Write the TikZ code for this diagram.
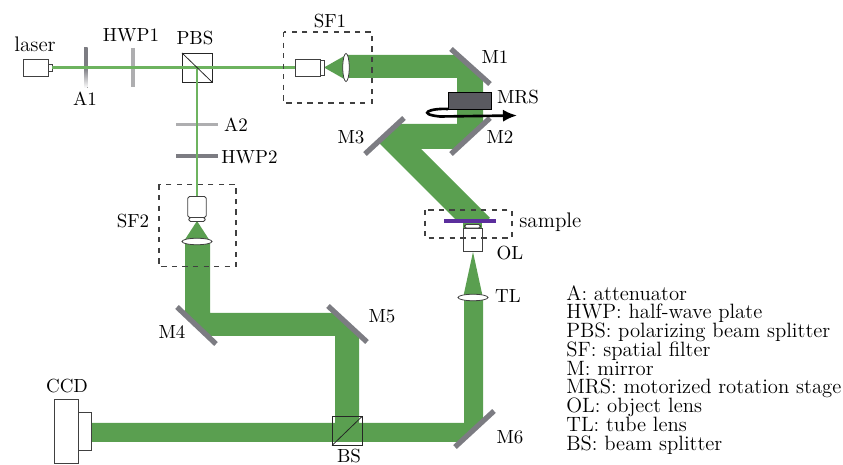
\documentclass[tikz,border=0pt]{standalone}
\usepackage{tikz}
\usetikzlibrary{arrows.meta,calc,positioning,shapes.geometric}
\definecolor{osGreen}{HTML}{5A9F50}
\definecolor{osThin}{HTML}{6DB35F}
\definecolor{osMirror}{HTML}{7C7C82}
\definecolor{osDark}{HTML}{5A5A60}
\definecolor{osPlate}{HTML}{AEAEB0}
\definecolor{osPurple}{HTML}{5B2E9C}
\AtBeginDocument{\lineskiplimit=-20pt\relax}
\tikzset{
  part/.style={draw=black!75,fill=white,line width=.45pt,inner sep=0pt,outer sep=0pt},
  cube/.style={draw=black!85,line width=.45pt,inner sep=0pt,outer sep=0pt,minimum width=.6cm,minimum height=.58cm},
  mirror/.style={osMirror,line width=3pt},
  plate/.style={line width=2pt},
  beam/.style={fill=osGreen},
  thinbeam/.style={osThin,line width=1.3pt},
  lens/.style={ellipse,draw=black!75,fill=white,line width=.45pt,inner sep=0pt,outer sep=0pt},
  filterbox/.style={draw=black!75,dashed,line width=.6pt},
  tag/.style={inner sep=0pt,font=\fontsize{10.8}{12}\selectfont},
  lowtag/.style={inner sep=0pt,font=\fontsize{12}{12}\selectfont}
}
\begin{document}
\begin{tikzpicture}[x=.02cm,y=-.02cm,>=Latex]
\useasboundingbox (0,0) rectangle (843,465);
\fill[beam] (346,55)--(458,55)--(483,78)--(483,124.5)--(456,149)--(421,149)--(490,218)--(484,222)--(458,222)--(378,142)--(397,124)--(457,124)--(457,78)--(346,78)--cycle;
\fill[beam] (324,67.5)--(346,55)--(346,80)--cycle;
\fill[beam] (463,222)--(482,222)--(482,230)--(463,230)--cycle;
\fill[beam] (197,221)--(210,241)--(184,241)--cycle;
\fill[beam] (185,241)--(210,241)--(210,313)--(336,313)--(359,335)--(359,425)--(335,425)--(335,336)--(208,336)--(185,314)--cycle;
\fill[beam] (91,423)--(464,423)--(464,298)--(483,298)--(483,421)--(460,442)--(91,442)--cycle;
\fill[beam] (473,252)--(483,298)--(463,298)--cycle;
\draw[mirror] (451,49)--(490,84);
\draw[mirror] (451,154)--(490,118);
\draw[mirror] (365,154)--(404,118);
\draw[mirror] (177,307)--(216,344);
\draw[mirror] (328,306)--(367,342);
\draw[mirror] (455,447)--(494,411);
\node[part,minimum width=.5cm,minimum height=.34cm] (laser) at (35.5,67.5) {};
\node[part,minimum width=.08cm,minimum height=.14cm,anchor=west] (nozzle) at (laser.east) {};
\node[cube] (pbs) at (197,67.5) {};
\node[part,minimum width=.5cm,minimum height=.34cm] (objA) at (307.5,67.5) {};
\node[part,minimum width=.08cm,minimum height=.3cm,anchor=west] (capA) at (objA.east) {};
\node[lens,minimum width=.13cm,minimum height=.56cm] (lensA) at (346,67.5) {};
\node[part,rounded corners=1pt,minimum width=.37cm,minimum height=.42cm] (objB) at (197,207) {};
\node[part,rounded corners=1pt,minimum width=.33cm,minimum height=.08cm,anchor=north] (capB) at (objB.south) {};
\node[lens,minimum width=.6cm,minimum height=.13cm] (lensB) at (197,241.5) {};
\node[part,minimum width=.38cm,minimum height=.46cm] (ol) at (472.5,239.5) {};
\node[part,rounded corners=1pt,minimum width=.32cm,minimum height=.07cm,anchor=south] (olcap) at (ol.north) {};
\node[lens,minimum width=.6cm,minimum height=.13cm] (tl) at (473,297.5) {};
\node[part,minimum width=.49cm,minimum height=1.28cm] (ccd) at (66.5,431) {};
\node[part,minimum width=.25cm,minimum height=.76cm,anchor=west] (ccdfront) at (ccd.east) {};
\node[cube] (bs) at (347,431) {};
\node[fill=osDark,draw=black,line width=.5pt,inner sep=0pt,outer sep=0pt,minimum width=.86cm,minimum height=.34cm] (mrs) at (469.5,100.5) {};
\draw[line width=1.5pt,black,-{Latex[length=8pt,width=7pt]}] (mrs.south west)..controls (430,108) and (416,114) .. (440,116.5)--(517,115.5);
\fill[top color=osMirror,bottom color=white,middle color=osMirror] (84,48) rectangle (87.5,88);
\draw[plate,osPlate] (133,48)--(133,87);
\draw[plate,osPlate] (176,124.5)--(218,124.5);
\draw[plate,osMirror] (176,156)--(218,156);
\draw[thinbeam] (nozzle.east)--(objA.west);
\draw[thinbeam] (pbs.center)--(objB.north);
\draw[black!85,line width=.45pt] (pbs.north west)--(pbs.south east);
\draw[black!85,line width=.45pt] (bs.south west)--(bs.north east);
\draw[osPurple,line width=1.9pt] (444,221)--(496,221);
\draw[filterbox] (283.5,32) rectangle (372,103);
\draw[filterbox] (159,184.5) rectangle (236,266.5);
\draw[filterbox] (425,210) rectangle (512,238);
\node[lowtag] (laserlabel) at (35,44) {laser};
\node[tag] (hwpa) at (131,35) {HWP1};
\node[tag] (pbslabel) at (195,38) {PBS};
\node[tag] (aa) at (85,99) {A1};
\node[tag] (ab) at (236,125) {A2};
\node[tag,anchor=west] (hwpb) at (221,157) {HWP2};
\node[tag] (sfa) at (330,21) {SF1};
\node[tag] (sfb) at (133,221) {SF2};
\node[tag] (ma) at (495,57) {M1};
\node[tag] (mrslabel) at (518,97) {MRS};
\node[tag] (mb) at (500,137) {M2};
\node[tag] (mc) at (351,137) {M3};
\node[lowtag,anchor=west] (samplelabel) at (519,222) {sample};
\node[tag] (ollabel) at (510,253) {OL};
\node[tag] (tllabel) at (508,296) {TL};
\node[tag] (me) at (382,316) {M5};
\node[tag] (md) at (172,332) {M4};
\node[tag] (mf) at (510,437) {M6};
\node[tag] (ccdlabel) at (67,386) {CCD};
\node[tag] (bslabel) at (349,456.5) {BS};
\node[anchor=north west,inner sep=0pt,align=left,font=\fontsize{11.8}{10.67}\selectfont] (legend) at (566,285) {A: attenuator\\HWP: half-wave plate\\PBS: polarizing beam splitter\\SF: spatial filter\\M: mirror\\MRS: motorized rotation stage\\OL: object lens\\TL: tube lens\\BS: beam splitter};
\end{tikzpicture}
\end{document}
